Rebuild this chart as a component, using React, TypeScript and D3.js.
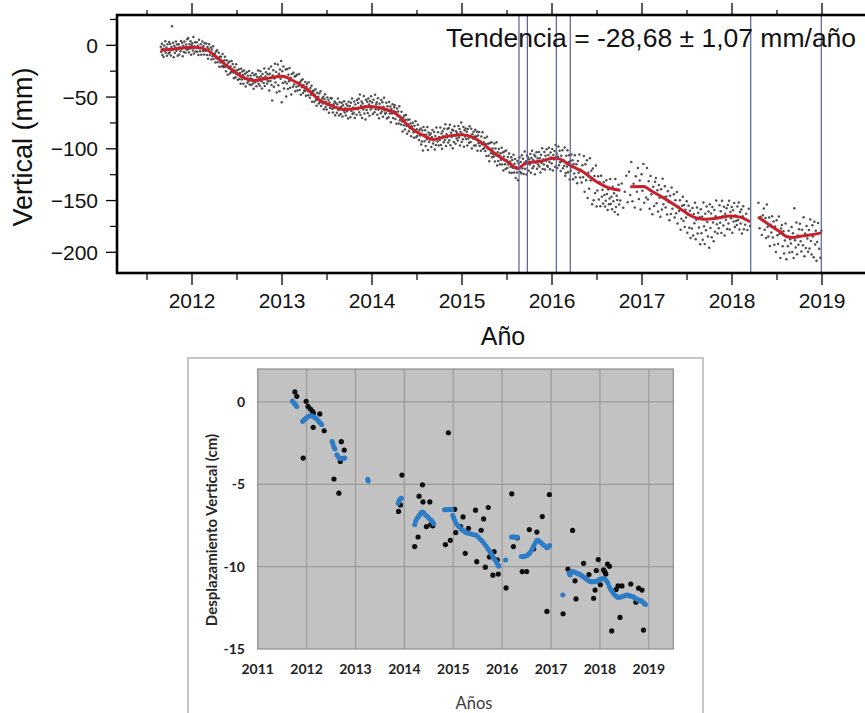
import React from "react";
import * as d3 from "d3";

// ---------- Top panel (GNSS vertical series) ----------
const gpsTrendYears = [
  2011.65, 2011.8, 2011.95, 2012.05, 2012.17, 2012.28, 2012.42, 2012.57, 2012.68, 2012.83,
  2013.0, 2013.12, 2013.28, 2013.42, 2013.57, 2013.68, 2013.83, 2013.98, 2014.12, 2014.28,
  2014.42, 2014.59, 2014.68, 2014.83, 2015.0, 2015.12, 2015.23, 2015.39, 2015.53, 2015.61,
  2015.72, 2015.87, 2016.01, 2016.09, 2016.2, 2016.34, 2016.5, 2016.64, 2016.76, 2016.8,
  2016.87, 2017.01, 2017.12, 2017.28, 2017.42, 2017.57, 2017.68, 2017.83, 2017.98, 2018.09,
  2018.2, 2018.25, 2018.29, 2018.42, 2018.53, 2018.61, 2018.68, 2018.76, 2018.89, 2019.0,
];
const gpsTrendValues = [
  -4.5, -3.5, -2, -2, -4.5, -12, -22, -31, -34, -32,
  -30, -34, -42.5, -53, -59, -62, -61, -59, -61, -67,
  -79, -88, -91, -88, -86.5, -89, -95, -106, -114, -119,
  -113.5, -112, -109, -110, -115.8, -122, -132, -138, -140, NaN,
  -136.7, -136.5, -141.5, -149.6, -157.6, -165.8, -168, -167, -165, -166,
  -170.5, NaN, -165.8, -173.8, -180, -185, -185.7, -184.4, -183, -181,
];
const gpsResidualStart = 2011.65;
const gpsResidualBin = 0.1;
const gpsResiduals = [
  "3 -2 6 -5 1 -7 4 -1 8 -3 2 -6 5 0 -4 7",
  "-3 5 -6 2 22 -1 6 -8 3 -4 1 7 -2 4 -7 0",
  "4 -6 1 -3 7 -1 5 -8 2 -4 6 0 -5 3 -2 8",
  "-2 9 -5 3 -1 6 -7 2 4 -3 10 -6 1 5 -4 0",
  "5 -4 2 -7 8 0 -3 4 -6 1 7 -2 3 -5 6 -1",
  "-1 6 -5 3 -8 2 7 -3 0 5 -6 4 -2 8 -4 1",
  "2 -6 5 -1 7 -4 0 6 -7 3 -2 4 -5 1 8 -3",
  "-4 3 7 -2 -6 5 1 -8 4 -1 6 -5 2 -3 8 0",
  "6 -2 -7 4 1 -5 8 -1 3 -6 0 5 -4 2 -8 7",
  "-3 5 2 -6 7 -1 4 -8 0 6 -4 3 -2 8 -5 1",
  "4 -5 1 7 -3 -8 5 0 -2 6 -6 3 -1 9 -4 2",
  "-6 8 3 -2 -9 5 1 -4 10 -7 2 6 -1 -5 4 -3",
  "9 -12 4 -3 11 -7 -22 2 7 -9 -1 13 -5 5 -15 0",
  "12 -8 3 -14 7 -2 15 -25 5 -6 10 -11 1 -4 8 -18",
  "-5 9 -10 4 -2 11 -8 2 -14 6 0 -6 8 -3 5 -9",
  "6 -4 8 -7 1 -2 10 -5 3 -9 5 -1 7 -6 2 -3",
  "-3 6 -7 2 5 -1 -5 8 0 -6 4 -2 7 -8 3 1",
  "4 -6 1 7 -3 -8 5 -1 2 -4 6 -2 9 -5 0 3",
  "-2 5 -7 3 8 -4 1 -6 6 -1 4 -8 2 -3 7 0",
  "7 -3 -6 2 -1 5 -8 4 0 -5 3 9 -2 -7 6 1",
  "-5 2 6 -7 4 -1 8 -3 1 -6 5 -2 3 -9 7 0",
  "3 -8 6 -2 10 -5 1 -4 7 -9 4 0 -6 8 -1 5",
  "9 -4 13 -7 2 6 -10 4 -2 11 -6 1 -12 7 -3 5",
  "-6 8 2 -9 5 -3 10 -1 4 -7 7 0 -5 12 -2 3",
  "5 -7 9 -2 -10 4 1 -5 8 -3 6 -8 2 11 -1 -4",
  "-3 7 -8 4 0 -6 9 -2 5 -10 3 -1 8 -5 2 6",
  "8 -5 2 -9 6 -1 4 -7 10 -3 1 -6 7 -2 -11 3",
  "-4 6 -7 3 8 -2 -9 5 1 -5 7 -1 4 -8 2 0",
  "6 -3 -8 4 -1 9 -6 2 -4 7 0 -7 3 -2 5 -10",
  "-7 4 -15 8 1 -5 6 -9 2 -2 10 -12 5 -4 3 -1",
  "5 -8 2 9 -4 -1 7 -10 3 -6 11 0 -3 6 -7 1",
  "-2 10 -7 4 -11 6 1 -5 8 -3 12 -9 2 -1 7 -6",
  "8 -4 11 -9 3 -1 6 -12 5 -6 9 0 -8 4 -3 2",
  "-5 9 -2 6 -10 3 12 -7 1 -4 8 -11 5 -1 7 -3",
  "4 -9 7 -2 -6 10 1 -5 8 -11 3 -1 6 -7 2 9",
  "-6 3 8 -10 5 -2 9 -4 1 -8 6 -1 11 -5 2 -3",
  "7 -5 2 -9 10 -1 4 -7 -12 6 0 -3 8 -6 3 -2",
  "-4 9 -8 5 -1 12 -10 3 -5 7 1 -7 4 -2 10 -6",
  "6 -11 3 8 -4 -8 10 1 -6 5 -2 9 -9 2 -3 7",
  "-8 5 -2 11 -6 3 8 -10 1 -4 7 -12 4 -1 9 -5",
  "4 -7 10 -3 6 -9 1 12 -5 2 -11 7 -1 5 -8 3",
  "-2 8 -10 4 11 -6 2 -4 7 -12 5 -1 9 -7 3 -3",
  "9 -5 3 -11 6 -2 12 -8 1 -4 8 -9 4 -1 10 -6",
  "-7 4 11 -3 -10 6 1 -5 9 -12 3 -1 7 -8 13 2",
  "5 -9 2 12 -6 8 -3 -11 4 -1 10 -7 1 -4 14 -13",
  "-10 7 -3 13 -8 2 9 -14 4 -5 11 -1 6 -12 3 -6",
  "12 -9 4 -14 8 -3 15 -7 1 -11 6 -5",
  "16 -18 9 -6 14 -22 3 -12 18 -3 7 -25",
  "10 -20 4 -12 15 -24 -8 6 -16 1 -22 8",
  "-12 -5 -18 3 -9 -20 -14 6 -7 -22 -2 -16 -10 9",
  "-15 -8 -20 2 -12 -4 -22 10 -17 -6 -10 -24 5 -14",
  "-10 6 -18 -3 12 -14",
  "15 -8 24 -14 3 -20 10 -5",
  "18 -12 6 -22 12 -4 22 -15 1 -9",
  "20 -10 8 -18 14 -3 -22 5 -13 11",
  "15 -9 4 -16 10 -2 -20 7 -12 18 -6 1",
  "12 -8 3 -14 9 -1 -18 6 -11 15 -5 0",
  "10 -12 5 -7 14 -16 1 -3 8 -20 -9 4",
  "13 -10 6 -15 2 -5 11 -19 -1 8 -13 4 -22 0",
  "-12 8 -18 3 -6 14 -21 -2 10 -15 5 -9 1 -25",
  "9 -14 2 -20 16 -7 -24 5 -11 12 -3 -17 7 -28",
  "14 -9 5 -18 11 -4 -22 8 -13 2 17 -6 -15 0",
  "-10 12 -5 6 -15 16 1 -8 10 -18 3 -3 8 -12",
  "11 -7 15 -13 4 -2 9 -16 6 -5 13 -10 1 -4",
  "-8 10 -3 14 -12 5 -6 8 -15 2 12 -10 0 -5",
  "6 -9 12 -4 -12 3 -7",
  "22 8 -6 14 -10 2 -15 5",
  "12 -8 4 -15 18 -3 -12 7 -20 1 -6 10",
  "-10 6 -16 2 -22 9 -5 -13 14 -2 -25 4",
  "8 -12 3 -18 -5 12 -22 0 -9 6 -15 -2",
  "-6 10 -14 4 -20 28 -3 -10 14 -17 1 -8 7",
  "12 -5 -15 6 -9 18 -20 2 -12 9 -3 -16",
  "5 -13 15 -6 -19 9 -2 -22 12 -10 3 -26 -8",
  "10 -15 -24 2 -8 -28 6 -18",
];
const gpsDataGaps = [
  [2018.21, 2018.29],
  [2019.0, 2020.0],
];
const stepYears = [2015.633, 2015.726, 2016.048, 2016.203, 2018.208, 2018.992];
const topXTicks = [2012, 2013, 2014, 2015, 2016, 2017, 2018, 2019];
const topYTicks = [0, -50, -100, -150, -200];
const trendLabel = "Tendencia = -28,68 ± 1,07 mm/año";

// ---------- Bottom panel (InSAR / levelling comparison) ----------
const insarBlack = [
  [2011.76, 0.61], [2011.8, 0.34], [2011.93, -3.41], [2011.99, 0.04], [2012.03, -0.27],
  [2012.08, -0.43], [2012.12, -0.57], [2012.14, -0.67], [2012.135, -1.54], [2012.27, -0.73],
  [2012.36, -1.75], [2012.56, -4.68], [2012.66, -5.54], [2012.69, -3.61], [2012.71, -2.41],
  [2012.77, -2.92], [2013.95, -4.44], [2013.92, -6.25], [2013.88, -6.65], [2014.21, -8.78],
  [2014.28, -8.2], [2014.3, -5.72], [2014.37, -5.03], [2014.38, -6.07], [2014.45, -7.57],
  [2014.52, -6.07], [2014.54, -7.45], [2014.58, -7.52], [2014.84, -8.66], [2014.9, -1.87],
  [2014.94, -8.4], [2015.03, -6.52], [2015.05, -7.93], [2015.15, -7.57], [2015.2, -6.98],
  [2015.245, -9.19], [2015.31, -7.67], [2015.455, -6.57], [2015.48, -9.7], [2015.57, -7.79],
  [2015.62, -7.1], [2015.655, -10.03], [2015.715, -6.41], [2015.74, -9.41], [2015.81, -10.52],
  [2015.835, -9.09], [2015.9, -9.59], [2015.92, -10.45], [2016.08, -11.29], [2016.196, -5.58],
  [2016.23, -8.78], [2016.31, -8.25], [2016.41, -10.3], [2016.5, -10.3], [2016.556, -7.75],
  [2016.645, -8.92], [2016.71, -7.9], [2016.82, -6.96], [2016.915, -12.72], [2016.965, -5.62],
  [2017.245, -12.86], [2017.345, -10.15], [2017.44, -7.8], [2017.49, -10.86], [2017.51, -11.96],
  [2017.665, -9.8], [2017.775, -10.48], [2017.87, -11.92], [2017.9, -11.42], [2017.925, -10.24],
  [2017.965, -9.57], [2018.01, -11.1], [2018.075, -10.2], [2018.12, -10.45], [2018.155, -9.85],
  [2018.195, -9.98], [2018.1, -10.32], [2018.24, -13.9], [2018.33, -11.38], [2018.37, -11.17],
  [2018.41, -13.08], [2018.45, -11.17], [2018.63, -11.06], [2018.735, -12.16], [2018.79, -11.31],
  [2018.86, -11.42], [2018.89, -13.85],
];
const insarBlue = [
  [2011.71, 0.05], [2011.73, -0.02], [2011.75, -0.1], [2011.78, -0.2], [2011.8, -0.28],
  [2011.92, -1.18], [2011.95, -1.08], [2011.98, -1.0], [2012.01, -0.93], [2012.04, -0.88],
  [2012.07, -0.84], [2012.1, -0.84], [2012.13, -0.88], [2012.16, -0.93], [2012.19, -1.0],
  [2012.22, -1.08], [2012.25, -1.18], [2012.28, -1.28], [2012.31, -1.38],
  [2012.52, -2.4], [2012.54, -2.55], [2012.56, -2.75], [2012.58, -2.85],
  [2012.62, -3.2], [2012.64, -3.3], [2012.67, -3.4], [2012.7, -3.45], [2012.73, -3.45],
  [2012.76, -3.42], [2012.78, -3.4],
  [2013.25, -4.7], [2013.26, -4.8],
  [2013.87, -6.15], [2013.89, -6.0], [2013.91, -5.9], [2013.94, -5.85],
  [2014.21, -7.46], [2014.23, -7.25], [2014.26, -7.06], [2014.29, -6.95], [2014.31, -6.86],
  [2014.34, -6.75], [2014.37, -6.68], [2014.4, -6.75], [2014.43, -6.86], [2014.47, -6.96],
  [2014.5, -7.06], [2014.54, -7.16], [2014.57, -7.26], [2014.6, -7.4],
  [2014.82, -6.55], [2014.86, -6.55], [2014.9, -6.53], [2014.94, -6.52], [2014.97, -6.55],
  [2014.99, -6.9], [2015.01, -7.05], [2015.03, -7.2], [2015.06, -7.38], [2015.09, -7.5],
  [2015.12, -7.6], [2015.16, -7.72], [2015.2, -7.8], [2015.24, -7.9], [2015.28, -7.95],
  [2015.33, -7.98], [2015.37, -8.02], [2015.42, -8.07], [2015.47, -8.1], [2015.51, -8.2],
  [2015.55, -8.33], [2015.59, -8.45], [2015.63, -8.6], [2015.67, -8.75], [2015.7, -8.88],
  [2015.73, -9.0], [2015.76, -9.12], [2015.79, -9.28], [2015.82, -9.45], [2015.85, -9.58],
  [2015.88, -9.72], [2015.91, -9.88], [2015.93, -9.98],
  [2016.07, -9.59],
  [2016.19, -8.2], [2016.22, -8.2], [2016.25, -8.2], [2016.28, -8.22], [2016.31, -8.22],
  [2016.39, -9.39], [2016.42, -9.4], [2016.45, -9.38], [2016.48, -9.35], [2016.51, -9.32],
  [2016.54, -9.25], [2016.57, -9.15], [2016.6, -9.0], [2016.63, -8.85], [2016.65, -8.72],
  [2016.68, -8.55], [2016.71, -8.4], [2016.74, -8.42], [2016.78, -8.5], [2016.81, -8.6],
  [2016.85, -8.7], [2016.91, -8.85], [2016.94, -8.8], [2016.97, -8.72],
  [2017.24, -11.72],
  [2017.37, -10.4], [2017.39, -10.5], [2017.41, -10.32], [2017.44, -10.3], [2017.47, -10.33],
  [2017.5, -10.36], [2017.53, -10.4], [2017.56, -10.44], [2017.59, -10.48], [2017.62, -10.52],
  [2017.65, -10.6], [2017.68, -10.66], [2017.71, -10.72], [2017.74, -10.8], [2017.77, -10.86],
  [2017.8, -10.9], [2017.83, -10.92], [2017.86, -10.92], [2017.89, -10.92], [2017.92, -10.9],
  [2017.95, -10.86], [2017.98, -10.8], [2018.01, -10.77], [2018.04, -10.74], [2018.07, -10.72],
  [2018.1, -10.75], [2018.13, -10.85], [2018.16, -11.0], [2018.19, -11.2], [2018.22, -11.38],
  [2018.25, -11.52], [2018.28, -11.64], [2018.31, -11.74], [2018.34, -11.82], [2018.37, -11.88],
  [2018.4, -11.86], [2018.43, -11.84], [2018.46, -11.82], [2018.49, -11.78], [2018.52, -11.75],
  [2018.55, -11.72], [2018.58, -11.74], [2018.61, -11.78], [2018.64, -11.8], [2018.67, -11.82],
  [2018.7, -11.88], [2018.73, -11.93], [2018.76, -11.98], [2018.79, -12.02], [2018.82, -12.05],
  [2018.85, -12.09], [2018.88, -12.16], [2018.91, -12.24], [2018.93, -12.3],
];
const bottomXTicks = [2011, 2012, 2013, 2014, 2015, 2016, 2017, 2018, 2019];
const bottomYTicks = [0, -5, -10, -15];

const MINUS = "\u2212";

function TopPanel() {
  const left = 117, right = 867, top = 15, bottom = 273;
  const x = d3.scaleLinear().domain([2011.1667, 2019.5]).range([left, right]);
  const y = d3.scaleLinear().domain([-220, 29.3]).range([bottom, top]);

  const defYears: number[] = [];
  const defVals: number[] = [];
  gpsTrendYears.forEach((yr, i) => {
    if (!isNaN(gpsTrendValues[i])) {
      defYears.push(yr);
      defVals.push(gpsTrendValues[i]);
    }
  });
  const trendAt = d3.scaleLinear().domain(defYears).range(defVals).clamp(true);

  const dots: { t: number; v: number }[] = [];
  gpsResiduals.forEach((s, k) => {
    const vals = s.trim().split(/\s+/).map(Number);
    const n = vals.length;
    vals.forEach((r, i) => {
      const t = gpsResidualStart + gpsResidualBin * (k + (i + 0.5) / n);
      if (gpsDataGaps.some(([a, b]) => t > a && t < b)) return;
      dots.push({ t, v: trendAt(t) + r });
    });
  });

  const trendData = gpsTrendYears.map((yr, i) => ({ t: yr, v: gpsTrendValues[i] }));
  const line = d3
    .line<{ t: number; v: number }>()
    .defined((d) => !isNaN(d.v))
    .x((d) => x(d.t))
    .y((d) => y(d.v))
    .curve(d3.curveMonotoneX);

  const minorX = d3.range(2011.5, 2019.6, 1);
  const minorY = [25, -25, -75, -125, -175];
  const font = "'Liberation Sans', Arial, sans-serif";

  return (
    <g fontFamily={font}>
      {dots.map((d, i) => (
        <circle key={i} cx={x(d.t)} cy={y(d.v)} r={1.25} fill="#3c3c3c" opacity={0.9} />
      ))}
      <path d={line(trendData) || ""} fill="none" stroke="#c8202a" strokeWidth={3} />
      {stepYears.map((s, i) => (
        <line key={i} x1={x(s)} x2={x(s)} y1={top} y2={bottom} stroke="#585c94" strokeWidth={1.2} />
      ))}
      <text x={446} y={47} fontSize={26.5} fill="#111">
        {trendLabel}
      </text>
      <rect x={left} y={top} width={right - left} height={bottom - top} fill="none" stroke="#000" strokeWidth={2.6} />
      {topXTicks.map((t) => (
        <g key={t}>
          <line x1={x(t)} x2={x(t)} y1={top} y2={top - 12} stroke="#000" strokeWidth={1.3} />
          <line x1={x(t)} x2={x(t)} y1={bottom} y2={bottom + 12} stroke="#000" strokeWidth={1.3} />
          <text x={x(t)} y={308} fontSize={21} textAnchor="middle" fill="#111">
            {t}
          </text>
        </g>
      ))}
      {minorX.map((t) => (
        <g key={t}>
          <line x1={x(t)} x2={x(t)} y1={top} y2={top - 5} stroke="#000" strokeWidth={1.2} />
          <line x1={x(t)} x2={x(t)} y1={bottom} y2={bottom + 7} stroke="#000" strokeWidth={1.2} />
        </g>
      ))}
      {topYTicks.map((t) => (
        <g key={t}>
          <line x1={left} x2={left - 11} y1={y(t)} y2={y(t)} stroke="#000" strokeWidth={1.3} />
          <text x={98} y={y(t)} dy="0.36em" fontSize={21} textAnchor="end" fill="#111">
            {t < 0 ? MINUS + Math.abs(t) : t}
          </text>
        </g>
      ))}
      {minorY.map((t) => (
        <line key={t} x1={left} x2={left - 7} y1={y(t)} y2={y(t)} stroke="#000" strokeWidth={1.2} />
      ))}
      <text x={503} y={345} fontSize={25} textAnchor="middle" fill="#111">
        Año
      </text>
      <text
        transform="translate(32,147) rotate(-90)"
        fontSize={27}
        textAnchor="middle"
        fill="#111"
      >
        Vertical (mm)
      </text>
    </g>
  );
}

function BottomPanel() {
  const left = 257.7, right = 673.3, top = 369, bottom = 649;
  const x = d3.scaleLinear().domain([2011, 2019.5]).range([left, right]);
  const y = d3.scaleLinear().domain([-15, 2]).range([bottom, top]);
  const font = "Lato, 'Open Sans', sans-serif";
  return (
    <g fontFamily={font}>
      <rect x={188} y={358} width={515} height={400} fill="#fff" stroke="#c6c6c6" strokeWidth={2} />
      <rect x={left} y={top} width={right - left} height={bottom - top} fill="#c2c2c2" />
      {bottomXTicks.slice(1).map((t) => (
        <line key={t} x1={x(t)} x2={x(t)} y1={top} y2={bottom} stroke="#9b9b9b" strokeWidth={1.2} />
      ))}
      {bottomYTicks.slice(0, 3).map((t) => (
        <line key={t} x1={left} x2={right} y1={y(t)} y2={y(t)} stroke="#9b9b9b" strokeWidth={1.2} />
      ))}
      <rect x={left} y={top} width={right - left} height={bottom - top} fill="none" stroke="#8e8e8e" strokeWidth={1.2} />
      {insarBlack.map((d, i) => (
        <circle key={"k" + i} cx={x(d[0])} cy={y(d[1])} r={2.6} fill="#0d0d0d" />
      ))}
      {insarBlue.map((d, i) => (
        <circle key={"b" + i} cx={x(d[0])} cy={y(d[1])} r={2.5} fill="#2d7cc6" />
      ))}
      {bottomYTicks.map((t) => (
        <text key={t} x={245} y={y(t)} dy="0.35em" fontSize={14} fontWeight={700} textAnchor="end" fill="#1e1e1e">
          {t}
        </text>
      ))}
      {bottomXTicks.map((t) => (
        <text key={t} x={x(t)} y={674} fontSize={14} fontWeight={700} textAnchor="middle" fill="#1e1e1e">
          {t}
        </text>
      ))}
      <text x={474} y={709} fontSize={16.5} textAnchor="middle" fill="#3a3a3a">
        Años
      </text>
      <text
        transform="translate(217,530) rotate(-90)"
        fontSize={15}
        fontWeight={700}
        textAnchor="middle"
        fill="#262626"
      >
        Desplazamiento Vertical (cm)
      </text>
    </g>
  );
}

export default function App() {
  return (
    <div style={{ position: "fixed", left: 0, top: 0 }}>
      <svg width={865} height={713} viewBox="0 0 865 713" style={{ display: "block", background: "#fff" }}>
        <TopPanel />
        <BottomPanel />
      </svg>
    </div>
  );
}
